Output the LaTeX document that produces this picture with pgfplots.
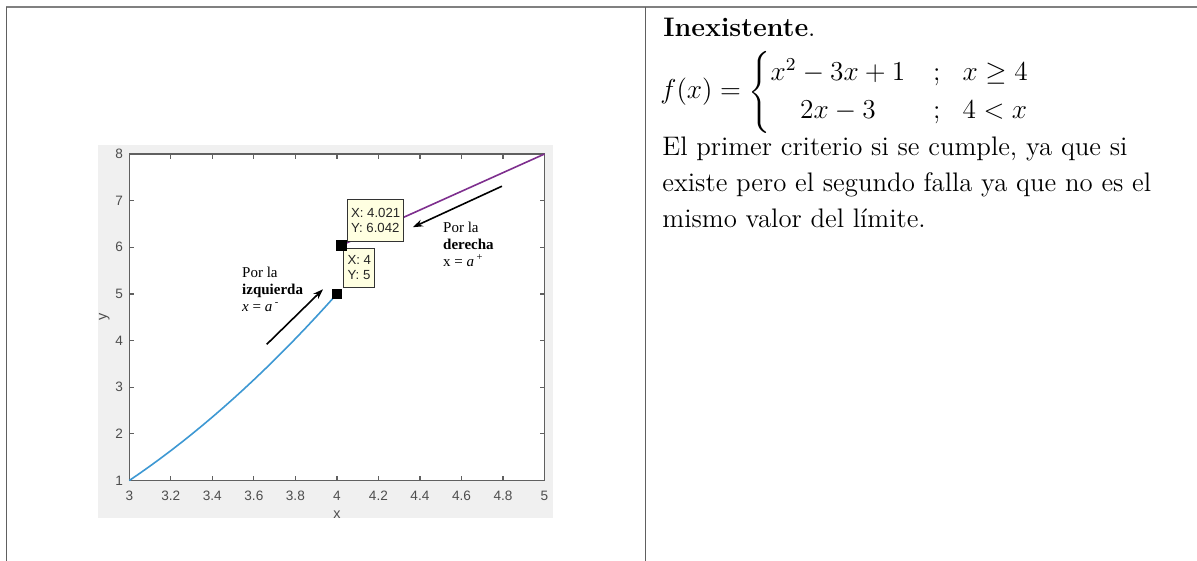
\documentclass[border=0pt]{standalone}
\usepackage{amsmath}
\usepackage{graphicx}
\usepackage{fontspec}
\usepackage{pgfplots}
\pgfplotsset{compat=1.18}
\usetikzlibrary{arrows.meta}
\newfontfamily\arialfont{Liberation Sans}
\newfontfamily\timesfont{Liberation Serif}
\definecolor{figbg}{HTML}{F0F0F0}
\definecolor{axgray}{HTML}{606060}
\definecolor{lblgray}{HTML}{4D4D4D}
\definecolor{mblue}{HTML}{3D98D3}
\definecolor{mpurple}{HTML}{7E2F8E}
\definecolor{tipbg}{HTML}{FFFFE1}
\definecolor{rulegray}{HTML}{808080}

\begin{document}
\begin{tikzpicture}
\path[use as bounding box] (0,0) rectangle (598.5pt,-280.5pt);
% table rules
\draw[rulegray, line width=1pt] (3pt,-3.75pt) -- (598.5pt,-3.75pt);
\draw[axgray, line width=0.6pt] (3.2pt,-3.75pt) -- (3.2pt,-280.5pt);
\draw[axgray, line width=0.6pt] (322.75pt,-3.75pt) -- (322.75pt,-280.5pt);
% figure window background
\fill[figbg] (49pt,-72.5pt) rectangle (276.5pt,-259pt);
\begin{axis}[
  at={(64.65pt,-240.25pt)}, anchor=south west,
  scale only axis, width=207.6pt, height=163.25pt,
  xmin=3, xmax=5, ymin=1, ymax=8,
  axis background/.style={fill=white},
  axis line style={axgray, line width=0.6pt},
  every tick/.style={axgray, line width=0.6pt},
  tick align=inside, xtick pos=both, ytick pos=both,
  major tick length=2.5pt,
  xtick={3,3.2,3.4,3.6,3.8,4,4.2,4.4,4.6,4.8,5},
  xticklabels={3,3.2,3.4,3.6,3.8,4,4.2,4.4,4.6,4.8,5},
  ytick={1,2,3,4,5,6,7,8},
  yticklabels={1,2,3,4,5,6,7,8},
  tick label style={font=\arialfont\fontsize{6.8}{8}\selectfont, text=lblgray, inner sep=0pt},
  xticklabel style={anchor=north, yshift=-5pt},
  yticklabel style={anchor=east, xshift=-3pt},
  xlabel={x}, ylabel={y},
  label style={font=\arialfont\fontsize{7.2}{8}\selectfont, text=lblgray},
  xlabel style={at={(axis description cs:0.5,-0.104)}, anchor=center},
  ylabel style={at={(axis description cs:-0.06,0.5)}, anchor=center},
  clip=false,
]
% left branch
\addplot[mblue, line width=0.8pt] coordinates {
  (3,1) (3.05,1.1525) (3.1,1.31) (3.15,1.4725) (3.2,1.64) (3.25,1.8125)
  (3.3,1.99) (3.35,2.1725) (3.4,2.36) (3.45,2.5525) (3.5,2.75) (3.55,2.9525)
  (3.6,3.16) (3.65,3.3725) (3.7,3.59) (3.75,3.8125) (3.8,4.04) (3.85,4.2725)
  (3.9,4.51) (3.95,4.7525) (4,5)};
% right branch
\addplot[mpurple, line width=0.8pt] coordinates {(4.021,6.042) (5,8)};
% data tip markers
\addplot[only marks, mark=square*, mark size=2.4pt, black] coordinates {(4,5) (4.021,6.042)};
% data tips
\node[draw=black!80, fill=tipbg, line width=0.5pt, anchor=north west,
      minimum width=28.3pt, minimum height=20.8pt, inner sep=0pt, align=left,
      font=\arialfont\fontsize{6.6}{7.6}\selectfont, text=black!85]
  at (axis cs:4.048,7.027) {X: 4.021\\Y: 6.042};
\node[draw=black!80, fill=tipbg, line width=0.5pt, anchor=north west,
      minimum width=15.5pt, minimum height=19.3pt, inner sep=0pt, align=left,
      font=\arialfont\fontsize{6.6}{7.6}\selectfont, text=black!85]
  at (axis cs:4.031,5.985) {X: 4\\Y: 5};
% annotations
\node[anchor=north west, inner sep=0pt, align=left, font=\timesfont\fontsize{7.5}{8.5}\selectfont]
  at (axis cs:3.542,5.574) {Por la\\\textbf{izquierda}\\\textit{x} = \textit{a}\,\textsuperscript{-}};
\node[anchor=north west, inner sep=0pt, align=left, font=\timesfont\fontsize{7.5}{8.5}\selectfont]
  at (axis cs:4.510,6.546) {Por la\\\textbf{derecha}\\x = \textit{a}\,\textsuperscript{+}};
\draw[-{Stealth[length=5pt,width=3.5pt]}, line width=0.8pt] (axis cs:3.662,3.92) -- (axis cs:3.933,5.10);
\draw[-{Stealth[length=5pt,width=3.5pt]}, line width=0.8pt] (axis cs:4.795,7.31) -- (axis cs:4.366,6.43);
\end{axis}
% right column
\node[anchor=base west, inner sep=0pt, font=\fontsize{13.4}{18}\selectfont] at (331.5pt,-18.3pt) {\textbf{Inexistente}.};
\node[anchor=west, inner sep=0pt] at (330pt,-46pt)
  {\scalebox{1.14}{\fontsize{12}{16.7}\selectfont
   $f(x)=\left\{\begin{array}{@{}c@{\hspace{12.3pt}}c@{\hspace{9.6pt}}l@{}} x^2-3x+1 & ; & x\geq 4\\ 2x-3 & ; & 4<x\end{array}\right.$}};
% paragraph: base anchor sits on the last line
\node[anchor=base west, inner sep=0pt, align=left, font=\fontsize{13.4}{18}\selectfont] at (331pt,-113.8pt)
  {El primer criterio si se cumple, ya que si\\ existe pero el segundo falla ya que no es el\\ mismo valor del límite.};
\end{tikzpicture}
\end{document}
